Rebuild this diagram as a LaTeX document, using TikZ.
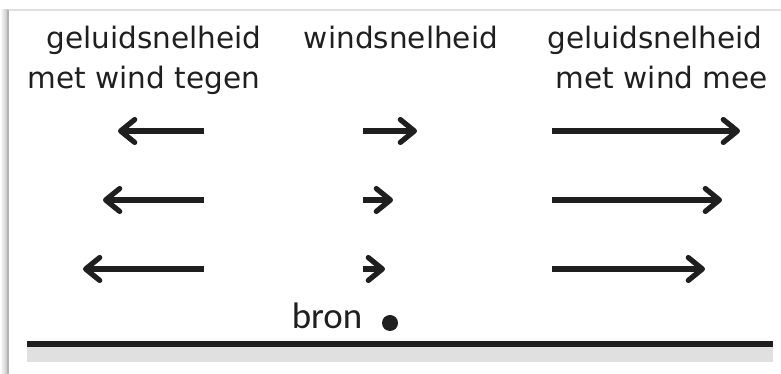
\documentclass[tikz,border=0pt]{standalone}
\usepackage{fontspec}
\setmainfont{DejaVu Sans}
\newfontfamily\bronfont{Carlito}
\usetikzlibrary{arrows.meta}

\tikzset{
  kop/.style={font=\fontsize{16.8}{20}\selectfont, anchor=base, inner sep=0pt, text=black!88},
  pijl/.style={line width=3pt, draw=black!88, -{Straight Barb[length=8pt,width=13pt,round]}},
}

\begin{document}
\begin{tikzpicture}[x=0.02cm,y=-0.02cm]
  \useasboundingbox (0,0) rectangle (781,374);

  % kader
  \shade[left color=white, right color=black!25] (0,10) rectangle (8,374);
  \draw[black!12, line width=1pt] (8,10) -- (781,10);
  \draw[black!30, line width=1pt] (8,10) -- (8,374);

  % koppen
  \node[kop] (tegen1) at (154,49) {geluidsnelheid};
  \node[kop] (tegen2) at (144,89) {met wind tegen};
  \node[kop] (wind)   at (401,49) {windsnelheid};
  \node[kop] (mee1)   at (655,49) {geluidsnelheid};
  \node[kop] (mee2)   at (662,89) {met wind mee};

  % pijlen per rij
  \foreach \y/\l/\m/\r in {131/118/417/740, 200/103/393/722, 269/83/385/705}{
    \draw[pijl] (204,\y) -- (\l,\y);
    \draw[pijl] (363,\y) -- (\m,\y);
    \draw[pijl] (552,\y) -- (\r,\y);
  }

  % bron en grond
  \node[anchor=base, inner sep=0pt, text=black!88, font=\bronfont\fontsize{21}{24}\selectfont] (bron) at (327,329) {bron};
  \fill[black!88] (390,323) circle [radius=8];
  \fill[black!12] (27,346) rectangle (773,362);
  \draw[black!88, line width=2.85pt] (27,344) -- (773,344);
\end{tikzpicture}
\end{document}
